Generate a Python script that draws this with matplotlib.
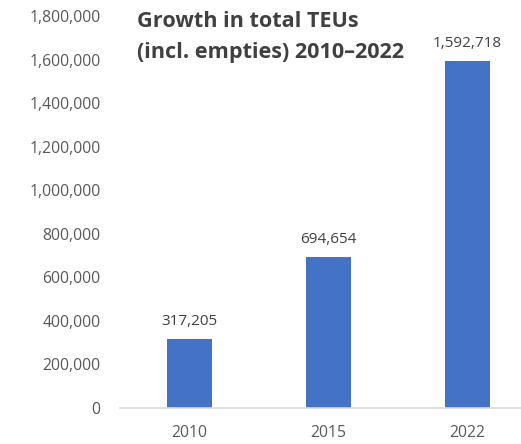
import numpy as np
import matplotlib.pyplot as plt
from matplotlib.ticker import FuncFormatter

# data
years = ['2010', '2015', '2022']
teus = [317205, 694654, 1592718]
yticks = np.arange(0, 1800001, 200000)

plt.rcParams['font.family'] = ['Open Sans', 'DejaVu Sans']

fig = plt.figure(figsize=(5.21, 4.44), dpi=100)
ax = fig.add_axes([120 / 521, 36 / 444, 401 / 521, 392 / 444])

x = np.arange(len(years))
ax.bar(x, teus, width=0.32, color='#4472C4', zorder=2)

# value labels above each bar
for xi, v in zip(x, teus):
    ax.text(xi, v + 45000, f'{v:,}', ha='center', va='bottom',
            fontsize=11, color='#404040')

ax.set_xlim(-0.5, 2.385)
ax.set_ylim(0, 1800000)
ax.set_xticks(x)
ax.set_xticklabels(years)
ax.set_yticks(yticks)
ax.yaxis.set_major_formatter(FuncFormatter(lambda v, p: f'{int(v):,}'))
ax.tick_params(axis='both', length=0, labelsize=11.3, labelcolor='#595959')
ax.tick_params(axis='y', pad=14)
ax.tick_params(axis='x', pad=12)

for s in ['top', 'right', 'left']:
    ax.spines[s].set_visible(False)
ax.spines['bottom'].set_color('#D9D9D9')
ax.spines['bottom'].set_linewidth(1.2)

# two-line title inside the plot area
fig.text(137 / 521, 1 - 11 / 444, 'Growth in total TEUs\n(incl. empties) 2010\u20132022',
         ha='left', va='top', fontsize=15.6, fontweight='bold',
         color='#404040', linespacing=1.65)

fig.savefig('out.png', dpi=100)
